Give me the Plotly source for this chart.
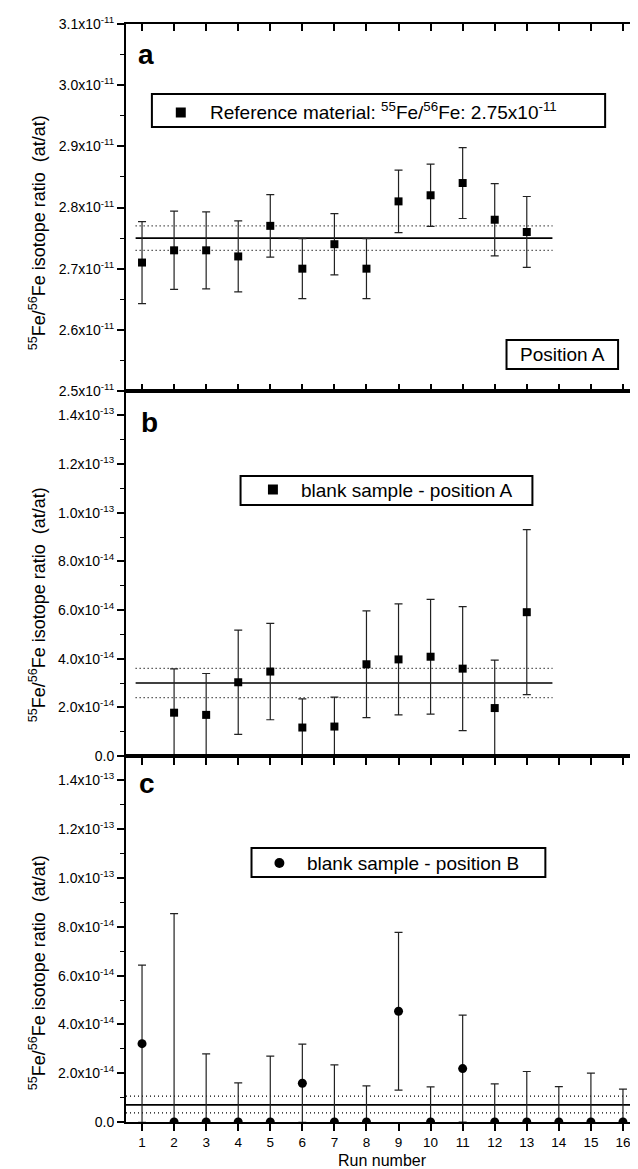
import plotly.graph_objects as go

# ---------------- data ----------------
# panel a : reference material (55Fe/56Fe ratio, units of 1e-11)
runs_a = list(range(1, 14))
a_ratio = [2.71, 2.73, 2.73, 2.72, 2.77, 2.70, 2.74, 2.70, 2.81, 2.82, 2.84, 2.78, 2.76]
a_err = [0.067, 0.064, 0.063, 0.058, 0.051, 0.049, 0.050, 0.049, 0.051, 0.051, 0.058, 0.059, 0.058]
a_mean = 2.75
a_band = [2.73, 2.77]

# panel b : blank sample - position A (units of 1e-14)
runs_b = list(range(2, 14))
b_ratio = [1.78, 1.69, 3.03, 3.47, 1.17, 1.21, 3.77, 3.97, 4.08, 3.59, 1.97, 5.91]
b_err = [1.80, 1.70, 2.14, 1.98, 1.18, 1.21, 2.19, 2.28, 2.36, 2.55, 1.97, 3.39]
b_mean = 3.0
b_band = [2.4, 3.6]

# panel c : blank sample - position B (units of 1e-14)
runs_c = list(range(1, 17))
c_ratio = [3.21, 0, 0, 0, 0, 1.59, 0, 0, 4.54, 0, 2.19, 0, 0, 0, 0, 0]
c_err = [3.22, 8.54, 2.79, 1.60, 2.70, 1.60, 2.34, 1.48, 3.23, 1.44, 2.19, 1.56, 2.07, 1.45, 2.00, 1.35]
c_mean = 0.7
c_band = [0.37, 1.06]

mean_span_ab = [0.8, 13.8]
mean_span_c = [0.5, 16.5]

run_ticks = list(range(1, 17))
a_ticks = [2.5, 2.6, 2.7, 2.8, 2.9, 3.0, 3.1]
a_ticktext = ["%.1fx10<sup>-11</sup>" % v for v in a_ticks]
bc_ticks = [0, 2, 4, 6, 8, 10, 12, 14]
bc_ticktext = ["0.0", "2.0x10<sup>-14</sup>", "4.0x10<sup>-14</sup>", "6.0x10<sup>-14</sup>",
               "8.0x10<sup>-14</sup>", "1.0x10<sup>-13</sup>", "1.2x10<sup>-13</sup>", "1.4x10<sup>-13</sup>"]

SA, SB = 1e-11, 1e-14

# ---------------- geometry ----------------
W, H = 638, 1169
L, R, T, B = 118, 5, 16, 55
PW, PH = W - L - R, H - T - B


def fx(px):
    return (px - L) / PW


def fy(py):
    return (H - B - py) / PH


dom_c = [0, fy(748)]
dom_b = [fy(748), fy(383)]
dom_a = [fy(383), 1]

FONT = "Liberation Sans, Arial, sans-serif"
YTICKFONT = dict(size=14, color="black", family=FONT)
XTICKFONT = dict(size=13.5, color="black", family=FONT)

fig = go.Figure()

errstyle = dict(type="data", visible=True, color="#222222", thickness=1.2, width=4)


def add_lines(xa, ya, span, mean, band, scale):
    for v in band:
        fig.add_trace(go.Scatter(x=span, y=[v * scale] * 2, mode="lines", xaxis=xa, yaxis=ya,
                                 line=dict(color="black", width=1.2, dash="1px,3px"),
                                 showlegend=False, hoverinfo="skip"))
    fig.add_trace(go.Scatter(x=span, y=[mean * scale] * 2, mode="lines", xaxis=xa, yaxis=ya,
                             line=dict(color="black", width=1.6),
                             showlegend=False, hoverinfo="skip"))


add_lines("x", "y", mean_span_ab, a_mean, a_band, SA)
add_lines("x2", "y2", mean_span_ab, b_mean, b_band, SB)
add_lines("x3", "y3", mean_span_c, c_mean, c_band, SB)

fig.add_trace(go.Scatter(x=runs_a, y=[v * SA for v in a_ratio], mode="markers", xaxis="x", yaxis="y",
                         name="Reference material",
                         marker=dict(symbol="square", size=8, color="black"),
                         error_y=dict(array=[e * SA for e in a_err], **errstyle), showlegend=False))
fig.add_trace(go.Scatter(x=runs_b, y=[v * SB for v in b_ratio], mode="markers", xaxis="x2", yaxis="y2",
                         name="blank sample - position A",
                         marker=dict(symbol="square", size=8, color="black"),
                         error_y=dict(array=[e * SB for e in b_err], **errstyle), showlegend=False))
fig.add_trace(go.Scatter(x=runs_c, y=[v * SB for v in c_ratio], mode="markers", xaxis="x3", yaxis="y3",
                         name="blank sample - position B",
                         marker=dict(symbol="circle", size=9, color="black"),
                         error_y=dict(array=[e * SB for e in c_err], **errstyle), showlegend=False))

xcommon = dict(range=[0.5, 16.5], tickmode="array", tickvals=run_ticks, showline=True, linewidth=2,
               linecolor="black", ticklen=7, tickwidth=1.5, tickcolor="black", showgrid=False,
               zeroline=False, domain=[0, 1], tickfont=XTICKFONT)


def ycommon(rng, tv, tt, minor_dt, dom):
    return dict(range=rng, domain=dom, tickmode="array", tickvals=tv, ticktext=tt, showline=True,
                linewidth=2, linecolor="black", mirror=True, ticks="outside", ticklen=7, tickwidth=1.5,
                tickcolor="black", showgrid=False, zeroline=False, tickfont=YTICKFONT,
                minor=dict(dtick=minor_dt, ticks="outside", ticklen=4,
                           tickwidth=1.2, tickcolor="black", showgrid=False))


def yright(over, rng, tv, minor_dt, anchor):
    return dict(overlaying=over, side="right", anchor=anchor, range=rng, tickmode="array", tickvals=tv,
                showticklabels=False, showline=False, ticks="inside", ticklen=5, tickwidth=1.5,
                tickcolor="black", showgrid=False, zeroline=False,
                minor=dict(dtick=minor_dt, ticks="inside", ticklen=3,
                           tickwidth=1.2, tickcolor="black", showgrid=False))


a_rng = [2.5 * SA, 3.1 * SA]
bc_rng = [0, 15 * SB]
a_tv = [v * SA for v in a_ticks]
bc_tv = [v * SB for v in bc_ticks]

fig.update_layout(
    width=W, height=H,
    margin=dict(l=L, r=R, t=T, b=B, pad=0),
    paper_bgcolor="white", plot_bgcolor="white",
    showlegend=False,
    font=dict(family=FONT, color="black", size=14),
    xaxis=dict(anchor="y", ticks="inside", mirror="ticks", showticklabels=False, **xcommon),
    xaxis2=dict(anchor="y2", ticks="outside", mirror=True, showticklabels=False, **xcommon),
    xaxis3=dict(anchor="y3", ticks="outside", mirror=True, showticklabels=True, **xcommon),
    yaxis=dict(anchor="x", **ycommon(a_rng, a_tv, a_ticktext, 0.05 * SA, dom_a)),
    yaxis2=dict(anchor="x2", **ycommon(bc_rng, bc_tv, bc_ticktext, 1 * SB, dom_b)),
    yaxis3=dict(anchor="x3", **ycommon(bc_rng, bc_tv, bc_ticktext, 1 * SB, dom_c)),
    yaxis4=yright("y", a_rng, a_tv, 0.05 * SA, "x"),
    yaxis5=yright("y2", bc_rng, bc_tv, 1 * SB, "x2"),
    yaxis6=yright("y3", bc_rng, bc_tv, 1 * SB, "x3"),
)

shapes = []
annotations = []


def box(x0, y0, x1, y1):
    shapes.append(dict(type="rect", xref="paper", yref="paper", x0=fx(x0), x1=fx(x1), y0=fy(y1), y1=fy(y0),
                       line=dict(color="black", width=2), fillcolor="white", layer="above"))


def key(kind, cx, cy, s):
    shapes.append(dict(type="rect" if kind == "square" else "circle", xref="paper", yref="paper",
                       x0=fx(cx - s / 2), x1=fx(cx + s / 2), y0=fy(cy + s / 2), y1=fy(cy - s / 2),
                       line=dict(color="black", width=0), fillcolor="black", layer="above"))


def text(t, px, py, size, xanchor="left", bold=False, angle=0):
    annotations.append(dict(text=("<b>%s</b>" % t) if bold else t, xref="paper", yref="paper",
                            x=fx(px), y=fy(py), xanchor=xanchor, yanchor="middle", showarrow=False,
                            textangle=angle, font=dict(size=size, family=FONT, color="black")))


# legend boxes
box(144, 86, 599, 119)
key("square", 173, 104.5, 10)
text("Reference material: <sup>55</sup>Fe/<sup>56</sup>Fe: 2.75x10<sup>-11</sup>", 200, 103, 19)

box(500, 332, 612, 361)
text("Position A", 556, 346.5, 19, xanchor="center")

box(233, 468, 526, 497)
key("square", 265.5, 481.5, 10)
text("blank sample - position A", 292, 482, 19)

box(244, 840, 539, 869)
key("circle", 272, 855, 10)
text("blank sample - position B", 298, 855, 19)

# panel letters
text("a", 128, 46, 28, bold=True)
text("b", 131, 415, 28, bold=True)
text("c", 129, 775, 28, bold=True)

# axis titles
ytitle = "<sup>55</sup>Fe/<sup>56</sup>Fe isotope ratio  (at/at)"
for cy in (225, 597, 965):
    text(ytitle, 29, cy, 18, xanchor="center", angle=-90)
text("Run number", 375, 1152, 16, xanchor="center")

fig.update_layout(shapes=shapes, annotations=annotations)

fig.write_html("out.html")
